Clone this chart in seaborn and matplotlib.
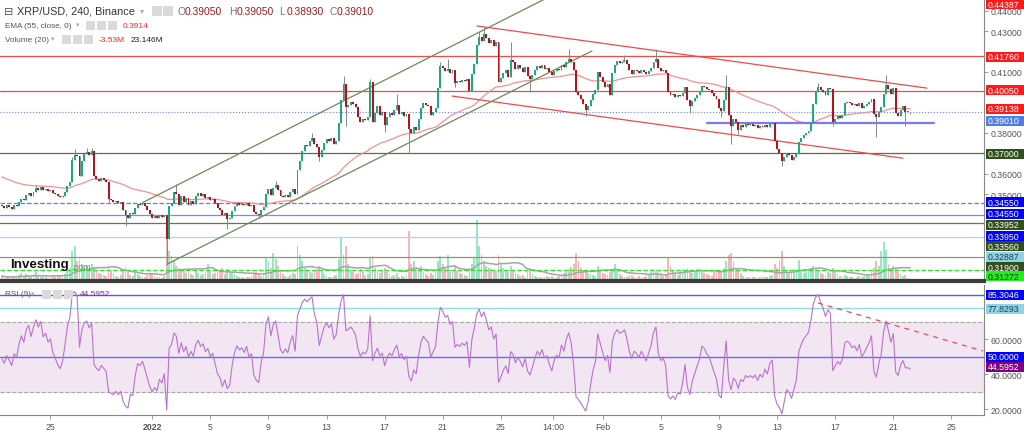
import numpy as np
import pandas as pd
import matplotlib
matplotlib.use("Agg")
import matplotlib.pyplot as plt
import seaborn as sns
from matplotlib.patches import Rectangle

# ---------------- data ----------------
first_open = 0.3445
closes = [
    0.3440, 0.3432, 0.3445, 0.3437, 0.3428, 0.3446, 0.3440, 0.3462, 0.3478, 0.3470,
    0.3495, 0.3505, 0.3492, 0.3512, 0.3530, 0.3522, 0.3535, 0.3518, 0.3525, 0.3515,
    0.3520, 0.3505, 0.3498, 0.3490, 0.3485, 0.3492, 0.3510, 0.3540, 0.3560, 0.3665,
    0.3690, 0.3685, 0.3590, 0.3660, 0.3695, 0.3705, 0.3690, 0.3710, 0.3590, 0.3575,
    0.3565, 0.3580, 0.3570, 0.3560, 0.3478, 0.3470, 0.3462, 0.3468, 0.3455, 0.3460,
    0.3420, 0.3395, 0.3385, 0.3405, 0.3400, 0.3430, 0.3452, 0.3448, 0.3455, 0.3440,
    0.3420, 0.3400, 0.3385, 0.3390, 0.3382, 0.3395, 0.3388, 0.3398, 0.3280, 0.3440,
    0.3455, 0.3510, 0.3500, 0.3445, 0.3490, 0.3460, 0.3480, 0.3445, 0.3465, 0.3450,
    0.3490, 0.3505, 0.3490, 0.3498, 0.3480, 0.3488, 0.3470, 0.3478, 0.3455, 0.3430,
    0.3420, 0.3395, 0.3405, 0.3380, 0.3385, 0.3415, 0.3440, 0.3455, 0.3448, 0.3452,
    0.3445, 0.3455, 0.3440, 0.3445, 0.3410, 0.3400, 0.3395, 0.3420, 0.3435, 0.3500,
    0.3525, 0.3495, 0.3530, 0.3545, 0.3520, 0.3492, 0.3485, 0.3495, 0.3488, 0.3510,
    0.3525, 0.3500, 0.3620, 0.3660, 0.3710, 0.3740, 0.3735, 0.3760, 0.3775, 0.3745,
    0.3730, 0.3680, 0.3715, 0.3750, 0.3770, 0.3760, 0.3775, 0.3745, 0.3760, 0.3850,
    0.3960, 0.4040, 0.3925, 0.3935, 0.3950, 0.3940, 0.3925, 0.3880, 0.3855, 0.3870,
    0.3865, 0.3880, 0.4050, 0.3855, 0.3900, 0.3930, 0.3890, 0.3905, 0.3840, 0.3880,
    0.3900, 0.3890, 0.3915, 0.3935, 0.3895, 0.3905, 0.3885, 0.3895, 0.3820, 0.3800,
    0.3830, 0.3815, 0.3870, 0.3920, 0.3945, 0.3935, 0.3930, 0.3890, 0.3905, 0.3920,
    0.4020, 0.4130, 0.4120, 0.4105, 0.4115, 0.4095, 0.4110, 0.4045, 0.4055, 0.4050,
    0.4060, 0.4055, 0.4065, 0.4005, 0.4090, 0.4140, 0.4230, 0.4270, 0.4250, 0.4285,
    0.4265, 0.4240, 0.4255, 0.4225, 0.4245, 0.4050, 0.4070, 0.4095, 0.4110, 0.4075,
    0.4160, 0.4150, 0.4115, 0.4135, 0.4120, 0.4100, 0.4125, 0.4080, 0.4065, 0.4085,
    0.4110, 0.4130, 0.4120, 0.4135, 0.4115, 0.4120, 0.4100, 0.4085, 0.4105, 0.4115,
    0.4110, 0.4135, 0.4125, 0.4150, 0.4165, 0.4150, 0.4110, 0.4000, 0.3985, 0.3965,
    0.3940, 0.3915, 0.3930, 0.3960, 0.3990, 0.4010, 0.4100, 0.4075, 0.4050, 0.4025,
    0.4040, 0.3985, 0.4095, 0.4135, 0.4155, 0.4145, 0.4150, 0.4160, 0.4140, 0.4110,
    0.4090, 0.4110, 0.4105, 0.4095, 0.4110, 0.4100, 0.4090, 0.4105, 0.4120, 0.4150,
    0.4165, 0.4120, 0.4105, 0.4110, 0.4095, 0.4000, 0.3985, 0.3990, 0.3975, 0.3985,
    0.3980, 0.3995, 0.4025, 0.3960, 0.3930, 0.3955, 0.3970, 0.3985, 0.4000, 0.4030,
    0.4025, 0.4015, 0.4010, 0.3995, 0.3980, 0.3965, 0.3920, 0.3910, 0.3960, 0.4025,
    0.3890, 0.3835, 0.3870, 0.3855, 0.3815, 0.3840, 0.3830, 0.3845, 0.3838, 0.3842,
    0.3835, 0.3840, 0.3825, 0.3835, 0.3828, 0.3840, 0.3830, 0.3845, 0.3850, 0.3760,
    0.3720, 0.3700, 0.3660, 0.3680, 0.3700, 0.3690, 0.3665, 0.3680, 0.3695, 0.3755,
    0.3775, 0.3790, 0.3800, 0.3810, 0.3850, 0.3940, 0.4000, 0.4025, 0.4010, 0.4000,
    0.3985, 0.4020, 0.4015, 0.3855, 0.3870, 0.3885, 0.3875, 0.3890, 0.3945, 0.3950,
    0.3945, 0.3935, 0.3940, 0.3930, 0.3945, 0.3920, 0.3930, 0.3940, 0.3950, 0.3965,
    0.3895, 0.3880, 0.3905, 0.3925, 0.3990, 0.4035, 0.4015, 0.3990, 0.4020, 0.3900,
    0.3885, 0.3915, 0.3930, 0.3905, 0.3905, 0.3901,
]
high_wicks = {14: 0.3545, 29: 0.3680, 30: 0.3722, 35: 0.3725, 37: 0.3727, 72: 0.3550,
              113: 0.3562, 128: 0.3800, 141: 0.4080, 152: 0.4065, 163: 0.3990,
              181: 0.4150, 184: 0.4163, 197: 0.4300, 199: 0.4318, 210: 0.4245,
              234: 0.4212, 257: 0.4180, 270: 0.4212, 299: 0.4085, 337: 0.4045,
              365: 0.4085, 375: 0.3905}
low_wicks = {44: 0.3462, 51: 0.3344, 68: 0.3150, 93: 0.3328, 106: 0.3385, 131: 0.3660,
             142: 0.3835, 158: 0.3805, 168: 0.3700, 187: 0.4025, 218: 0.3999,
             241: 0.3884, 284: 0.3900, 297: 0.3880, 301: 0.3746, 304: 0.3795,
             322: 0.3640, 343: 0.3835, 361: 0.3780, 373: 0.3835, 375: 0.3893}
volumes_m = [
    12, 8, 10, 9, 7, 11, 9, 14, 18, 12,
    16, 14, 10, 15, 20, 12, 10, 9, 11, 8,
    9, 12, 10, 14, 11, 9, 16, 22, 30, 70,
    80, 45, 50, 38, 30, 35, 28, 40, 32, 25,
    18, 15, 14, 12, 30, 22, 18, 12, 10, 14,
    25, 32, 20, 14, 12, 18, 15, 12, 10, 9,
    14, 18, 16, 12, 10, 9, 8, 12, 95, 68,
    58, 45, 35, 30, 28, 25, 18, 20, 15, 14,
    22, 18, 14, 16, 20, 38, 22, 15, 18, 20,
    25, 30, 15, 28, 20, 18, 16, 12, 10, 9,
    8, 10, 9, 12, 18, 20, 16, 12, 14, 55,
    45, 30, 65, 50, 35, 20, 15, 12, 10, 14,
    18, 16, 80, 60, 45, 30, 25, 20, 18, 22,
    28, 35, 20, 15, 12, 10, 9, 12, 14, 50,
    100, 60, 80, 40, 25, 20, 15, 18, 28, 22,
    14, 16, 55, 58, 30, 25, 18, 22, 30, 20,
    15, 12, 14, 18, 10, 12, 9, 14, 115, 40,
    45, 30, 25, 35, 20, 15, 12, 18, 14, 20,
    45, 58, 40, 30, 60, 25, 20, 35, 22, 18,
    15, 14, 12, 30, 40, 55, 140, 80, 60, 45,
    35, 30, 28, 25, 22, 60, 40, 30, 25, 20,
    35, 25, 18, 15, 12, 14, 10, 22, 28, 15,
    12, 10, 9, 8, 10, 12, 9, 11, 8, 10,
    12, 14, 18, 20, 28, 32, 40, 65, 45, 30,
    25, 20, 18, 15, 14, 12, 35, 25, 18, 15,
    14, 20, 28, 38, 22, 15, 12, 10, 9, 12,
    14, 10, 9, 12, 10, 9, 11, 15, 20, 28,
    22, 18, 15, 12, 14, 52, 35, 25, 18, 14,
    20, 28, 22, 30, 25, 18, 22, 28, 30, 25,
    18, 15, 14, 12, 20, 22, 25, 20, 30, 45,
    60, 65, 45, 30, 25, 18, 12, 10, 9, 8,
    10, 9, 8, 10, 12, 9, 10, 12, 14, 40,
    30, 48, 68, 35, 25, 18, 20, 28, 22, 48,
    25, 18, 20, 22, 30, 35, 28, 22, 18, 15,
    14, 20, 18, 30, 22, 16, 12, 10, 14, 12,
    10, 9, 8, 10, 12, 9, 11, 14, 16, 20,
    30, 45, 35, 70, 90, 72, 40, 25, 35, 30,
    20, 15, 12, 14, 8, 5,
]
ema_seed = 0.3590
rsi_seed_gain = 0.0011
rsi_seed_loss = 0.0011

level_prices = [0.4176, 0.4005, 0.3901, 0.3700, 0.3455, 0.3395, 0.3356, 0.32887, 0.3190, 0.31272]
level_colors = ["#ee4b4b", "#ee4b4b", "#6f7ff0", "#56703f", "#7070ff", "#8585f2",
                "#5f7a4c", "#a9d9e8", "#8a9878", "#2ee02e"]
level_styles = ["-", "-", ":", "-", "--", "-", "-", "-", "-", "--"]

price_tags = ["0.44387", "0.41760", "0.40050", "0.39138", "0.39010", "0.37000", "0.34550",
              "0.34550", "0.33952", "0.33950", "0.33560", "0.32887", "0.31900", "0.31272"]
price_tag_bg = ["#ff1a1a", "#ff1a1a", "#ff1a1a", "#ff1a1a", "#4d7fe6", "#2f4f1c", "#0000ff",
                "#0000ff", "#2f4f1c", "#0000ff", "#2f4f1c", "#8fd3e6", "#2f4f1c", "#22ee22"]
price_tag_fg = ["white"] * 11 + ["#1e3c50", "white", "#103010"]

rsi_levels = [85.3046, 77.8293, 50.0]
rsi_level_colors = ["#5a5af0", "#90dcec", "#6b6bf2"]
rsi_tags = ["85.3046", "77.8293", "50.0000", "44.5952"]
rsi_tag_bg = ["#0000ff", "#8fd3e6", "#0000ff", "#800080"]
rsi_tag_fg = ["white", "#1e3c50", "white", "white"]

main_ticks = [0.44, 0.43, 0.41, 0.38, 0.36, 0.35]
rsi_ticks = [60, 40, 20]
date_tick_pos = [20, 62, 86, 110, 134, 158, 182, 206, 227.5, 248, 272, 296, 320, 344, 368, 392]
date_tick_labels = ["25", "2022", "5", "9", "13", "17", "21", "25", "14:00", "Feb",
                    "5", "9", "13", "17", "21", "25"]

channel_up_a = ([58.2, 230.4], [0.3459, 0.4495])
channel_up_b = ([68.1, 243.6], [0.3156, 0.4202])
channel_dn_a = ([196.1, 381.9], [0.4325, 0.4020])
channel_dn_b = ([185.8, 372.0], [0.3981, 0.3676])
support_seg = ([291.0, 384.8], [0.3848, 0.3848])
rsi_trend = ([336.9, 405.0], [80.7, 53.3])

# ---------------- derived series ----------------
n = len(closes)
idx = np.arange(n)
closes_a = np.array(closes)
opens_a = np.concatenate([[first_open], closes_a[:-1]])
highs = np.array([max(o, c, high_wicks.get(i, 0)) for i, (o, c) in enumerate(zip(opens_a, closes_a))])
lows = np.array([min(o, c, low_wicks.get(i, 9)) for i, (o, c) in enumerate(zip(opens_a, closes_a))])
up = closes_a >= opens_a

ema = pd.Series([ema_seed] + closes).ewm(span=55, adjust=False).mean().values[1:]

rsi = []
prev, ag, al = first_open, rsi_seed_gain, rsi_seed_loss
for c in closes:
    d = c - prev
    prev = c
    ag = (ag * 8 + max(d, 0)) / 9
    al = (al * 8 + max(-d, 0)) / 9
    rsi.append(100 - 100 / (1 + ag / al))
rsi = np.array(rsi)

vol = np.array(volumes_m, dtype=float)
vol_ma = pd.Series(vol).rolling(20, min_periods=1).mean().values

df = pd.DataFrame({"i": idx, "ema": ema, "rsi": rsi, "volma": vol_ma})

# ---------------- figure ----------------
sns.set_theme(style="white")
plt.rcParams["font.family"] = ["Liberation Sans", "DejaVu Sans"]

W, H = 1024, 431
fig = plt.figure(figsize=(W / 100, H / 100), dpi=100)
fig.patch.set_facecolor("white")

XL = (-0.826, 405.45)
ax_vol = fig.add_axes([0, (H - 282) / H, 984 / W, 282 / H])
ax = fig.add_axes([0, (H - 282) / H, 984 / W, 282 / H], sharex=ax_vol)
ax_rsi = fig.add_axes([0, (H - 416) / H, 984 / W, 130 / H], sharex=ax_vol)
ax_vol.set_zorder(1)
ax.set_zorder(2)
ax.patch.set_visible(False)

# volume
ax_vol.bar(idx, vol, width=0.75, color=np.where(up, "#86e3b8", "#f8a9a9"), linewidth=0, alpha=0.85)
sns.lineplot(data=df, x="i", y="volma", ax=ax_vol, color="#a5a5a5", linewidth=1.1, legend=False)
ax_vol.set_ylim(0, 282 * 2.3)
ax_vol.set_xlim(*XL)
ax_vol.axis("off")

# horizontal levels
for p, c, s in zip(level_prices, level_colors, level_styles):
    ax.axhline(p, color=c, linestyle=s, linewidth=0.9 if s != ":" else 0.8, zorder=1)

# EMA
sns.lineplot(data=df, x="i", y="ema", ax=ax, color="#f59090", linewidth=0.9, legend=False, zorder=2)

# trend lines
for (xs, ys), col in [(channel_up_a, "#6b8a5a"), (channel_up_b, "#6b8a5a"),
                      (channel_dn_a, "#f04a4a"), (channel_dn_b, "#f04a4a")]:
    ax.plot(xs, ys, color=col, linewidth=0.9, zorder=3)
ax.plot(*support_seg, color="#7b7bf0", linewidth=1.6, zorder=3)

# candles
ax.vlines(idx, lows, highs, color="#7f8f88", linewidth=0.7, zorder=4)
body_h = np.maximum(np.abs(closes_a - opens_a), 0.00018)
ax.bar(idx, body_h, bottom=np.minimum(opens_a, closes_a), width=0.8,
       color=np.where(up, "#1fa882", "#b3141b"), linewidth=0, zorder=5)

ax.set_xlim(*XL)
ax.set_ylim(0.30735, 0.44572)
ax.set_yticks(main_ticks)
ax.set_yticklabels([f"{t:.5f}" for t in main_ticks])
ax.yaxis.tick_right()
ax.tick_params(axis="y", right=True, length=3, width=0.6, color="#888888",
               labelsize=6.3, labelcolor="#555555", pad=2)
ax.tick_params(axis="x", bottom=False, labelbottom=False)
ax.set_xlabel("")
ax.set_ylabel("")
for side in ["left", "top"]:
    ax.spines[side].set_visible(False)
ax.spines["right"].set_color("#888888")
ax.spines["right"].set_linewidth(0.8)
ax.spines["bottom"].set_color("#3c3c3c")
ax.spines["bottom"].set_linewidth(3)

# RSI panel
ax_rsi.axhspan(30, 70, color="#f3e6f3", zorder=0)
ax_rsi.axhline(70, color="#aaaaaa", linestyle="--", linewidth=0.8)
ax_rsi.axhline(30, color="#aaaaaa", linestyle="--", linewidth=0.8)
for lv, c in zip(rsi_levels, rsi_level_colors):
    ax_rsi.axhline(lv, color=c, linewidth=1.0)
sns.lineplot(data=df, x="i", y="rsi", ax=ax_rsi, color="#b873cc", linewidth=0.8, legend=False)
ax_rsi.plot(*rsi_trend, color="#f04a4a", linestyle=(0, (4, 4)), linewidth=0.9)
ax_rsi.set_xlim(*XL)
ax_rsi.set_ylim(16.69, 90.97)
ax_rsi.set_yticks(rsi_ticks)
ax_rsi.set_yticklabels([f"{t:.4f}" for t in rsi_ticks])
ax_rsi.yaxis.tick_right()
ax_rsi.tick_params(axis="y", right=True, length=3, width=0.6, color="#888888",
                   labelsize=6.3, labelcolor="#555555", pad=2)
ax_rsi.set_xticks(date_tick_pos)
ax_rsi.set_xticklabels(date_tick_labels)
ax_rsi.tick_params(axis="x", bottom=True, length=3, width=0.6, color="#888888",
                   labelsize=6.3, labelcolor="#555555", pad=2)
for lbl in ax_rsi.get_xticklabels():
    if lbl.get_text() == "2022":
        lbl.set_fontweight("bold")
ax_rsi.set_xlabel("")
ax_rsi.set_ylabel("")
for side in ["left", "top"]:
    ax_rsi.spines[side].set_visible(False)
for side in ["right", "bottom"]:
    ax_rsi.spines[side].set_color("#888888")
    ax_rsi.spines[side].set_linewidth(0.8)


# ---------------- text overlays ----------------
def ftext(x, y, s, **kw):
    fig.text(x / W, 1 - y / H, s, va="center", ha="left", **kw)


def icon(x, y, w=9, h=9):
    fig.add_artist(Rectangle((x / W, 1 - (y + h / 2) / H), w / W, h / H,
                             transform=fig.transFigure, fc="#dadada", ec="none", zorder=8))


def tag(y, s, bg, fg):
    h = 10
    fig.add_artist(Rectangle((985.5 / W, 1 - (y + h / 2) / H), 38.5 / W, h / H,
                             transform=fig.transFigure, fc=bg, ec="none", zorder=10))
    fig.text(988 / W, 1 - y / H, s, color=fg, fontsize=6.3, va="center", ha="left", zorder=11)


tag_y = [5, 57.7, 91, 110, 121.7, 155, 203.3, 215, 226, 237.3, 247.3, 257.7, 268.3, 277.3]
for y, s, bg, fg in zip(tag_y, price_tags, price_tag_bg, price_tag_fg):
    tag(y, s, bg, fg)
rsi_tag_y = [296, 310, 357.5, 367.5]
for y, s, bg, fg in zip(rsi_tag_y, rsi_tags, rsi_tag_bg, rsi_tag_fg):
    tag(y, s, bg, fg)

# header row 1
ftext(4, 12, "⊟", fontsize=8, color="#555555")
ftext(17, 12, "XRP/USD, 240, Binance", fontsize=7.8, color="#333333")
ftext(140, 12, "▾", fontsize=6, color="#aaaaaa")
icon(152, 12, 10, 10)
icon(163, 12, 10, 10)
for x, letter, val in [(177, "O", "0.39050"), (229, "H", "0.39050"),
                       (279, "L", "0.38930"), (329, "C", "0.39010")]:
    ftext(x, 12, letter, fontsize=7.4, color="#777777")
    ftext(x + 7.5, 12, val, fontsize=7.4, color="#9b1c1c")

# header row 2
ftext(5, 26, "EMA (55, close, 0)", fontsize=5.9, color="#555555")
ftext(76, 26, "▾", fontsize=5, color="#aaaaaa")
for x in (86, 97, 108):
    icon(x, 26, 9, 9)
ftext(123, 26, "0.3914", fontsize=6, color="#ff2020")

# header row 3
ftext(5, 40, "Volume (20)", fontsize=5.9, color="#555555")
ftext(51, 40, "▾", fontsize=5, color="#aaaaaa")
for x in (62, 73, 84):
    icon(x, 40, 9, 9)
ftext(99, 40, "-3.53M", fontsize=6, color="#ff2020")
ftext(131, 40, "23.146M", fontsize=6, color="#222222")

# RSI header
ftext(5, 295, "RSI (9)", fontsize=5.9, color="#555555")
ftext(31, 295, "▾", fontsize=5, color="#aaaaaa")
for x in (42, 53, 64):
    icon(x, 295, 9, 9)
ftext(80, 295, "44.5952", fontsize=6, color="#8a2a9a")

# watermark
ftext(10, 265, "Investing", fontsize=9.6, fontweight="bold", color="#111111")
ftext(71, 268, ".com", fontsize=6.6, color="#777777")

fig.savefig("out.png", dpi=100)
